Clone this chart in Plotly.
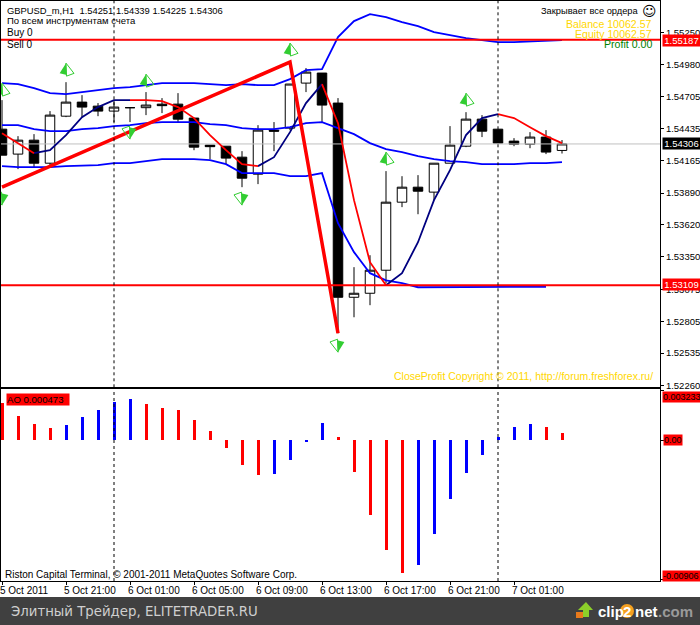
import plotly.graph_objects as go
from plotly.subplots import make_subplots

W, H = 700, 625
FONT = "Liberation Sans"

# ---------- data ----------
OPEN = [1.54431,1.54220,1.54338,1.54143,1.54541,1.54660,1.54626,1.54584,1.54613,1.54613,1.54643,1.54643,
        1.54525,1.54296,1.54287,1.54194,1.54050,1.54423,1.54440,1.54821,1.54906,1.54652,1.53008,1.53042,
        1.53237,1.53813,1.53940,1.53898,1.54143,1.54287,1.54516,1.54431,1.54330,1.54304,1.54364,1.54251]
HIGH = [1.54677,1.54372,1.54389,1.54584,1.54829,1.54719,1.54652,1.54677,1.54613,1.54745,1.54694,1.54736,
        1.54525,1.54296,1.54287,1.54245,1.54465,1.54491,1.54813,1.54948,1.54906,1.54694,1.53263,1.53364,
        1.54076,1.54033,1.54042,1.54143,1.54457,1.54575,1.54550,1.54431,1.54355,1.54406,1.54423,1.54339]
LOW = [1.54211,1.54093,1.54110,1.54110,1.54533,1.54533,1.54541,1.54491,1.54491,1.54550,1.54567,1.54491,
       1.54253,1.54177,1.54135,1.53940,1.53966,1.54245,1.54423,1.54745,1.54491,1.52703,1.52839,1.52941,
       1.53127,1.53771,1.53711,1.53830,1.54143,1.54279,1.54364,1.54313,1.54287,1.54270,1.54220,1.54225]
CLOSE = [1.54211,1.54338,1.54143,1.54550,1.54660,1.54618,1.54584,1.54618,1.54613,1.54635,1.54630,1.54516,
         1.54279,1.54283,1.54186,1.54016,1.54423,1.54414,1.54813,1.54914,1.54635,1.53008,1.53042,1.53237,
         1.53813,1.53940,1.53906,1.54143,1.54296,1.54516,1.54414,1.54313,1.54304,1.54364,1.54237,1.54306]

BAND_UPPER = [1.54821,1.54813,1.54779,1.54736,1.54728,1.54745,1.54762,1.54779,1.54787,1.54804,1.54821,1.54821,
              1.54821,1.54813,1.54804,1.54813,1.54804,1.54804,1.54855,1.54931,1.54940,1.55211,1.55346,1.55405,
              1.55380,1.55338,1.55304,1.55253,1.55228,1.55202,1.55185,1.55168,1.55168,1.55172,1.55177,1.55185]
BAND_MID = [1.54465,1.54465,1.54431,1.54414,1.54414,1.54431,1.54440,1.54457,1.54465,1.54482,1.54491,1.54491,
            1.54491,1.54474,1.54465,1.54440,1.54431,1.54431,1.54448,1.54482,1.54491,1.54440,1.54389,1.54313,
            1.54262,1.54237,1.54203,1.54177,1.54160,1.54152,1.54135,1.54135,1.54135,1.54143,1.54143,1.54152]
BAND_LOWER = [1.54118,1.54110,1.54110,1.54110,1.54118,1.54122,1.54126,1.54143,1.54143,1.54160,1.54177,1.54177,
              1.54177,1.54169,1.54135,1.54059,1.54059,1.54059,1.54033,1.54033,1.54059,1.53635,1.53390,1.53212,
              1.53152,1.53127,1.53093,1.53093,1.53093,1.53093,1.53097,1.53097,1.53097,1.53097,1.53097]

MA = [1.54397,1.54313,1.54228,1.54253,1.54381,1.54533,1.54618,1.54677,1.54677,1.54677,1.54669,1.54618,
      1.54525,1.54381,1.54253,1.54135,1.54118,1.54194,1.54406,1.54652,1.54813,1.54482,1.53830,1.53305,
      1.53110,1.53212,1.53474,1.53830,1.54084,1.54381,1.54525,1.54558,1.54525,1.54448,1.54372,1.54313]
MA_RED_SPANS = [(0, 2), (8, 16), (20, 24), (31, 35)]
MA_NAVY_SPANS = [(2, 8), (16, 20), (24, 31)]

ZIGZAG_X = [0, 18, 21]
ZIGZAG_Y = [1.53940, 1.54999, 1.52703]

LEVEL_HIGH = 1.55187
LEVEL_LOW = 1.53109
LAST_PRICE = 1.54306

ARROW_UP_X = [0, 4, 9, 18, 24, 29]
ARROW_UP_Y = [1.54821, 1.54990, 1.54897, 1.55160, 1.54237, 1.54736]
ARROW_DOWN_X = [0, 8, 15, 21]
ARROW_DOWN_Y = [1.53788, 1.54347, 1.53788, 1.52543]

AO = [0.00240,0.00156,0.00104,0.00078,0.00098,0.00150,0.00195,0.00247,0.00267,0.00234,0.00208,0.00195,
      0.00130,0.00059,-0.00052,-0.00163,-0.00228,-0.00221,-0.00130,-0.00007,0.00111,0.00020,-0.00208,-0.00488,
      -0.00715,-0.00865,-0.00813,-0.00611,-0.00384,-0.00215,-0.00098,0.00020,0.00085,0.00104,0.00085,0.00047]
AO_COLOURS = ["r"]*4 + ["b"]*5 + ["r"]*8 + ["b"]*4 + ["r"]*5 + ["b"]*8 + ["r"]*2
AO_TICKS = [0.003233, 0.0, -0.00906]

PRICE_TICKS = [1.55250,1.54980,1.54705,1.54435,1.54165,1.53890,1.53620,1.53350,1.53075,1.52805,1.52535,1.52260]
TIME_TICKS = [0, 4, 8, 12, 16, 20, 24, 28, 32]
TIME_LABELS = ["5 Oct 2011","5 Oct 21:00","6 Oct 01:00","6 Oct 05:00","6 Oct 09:00",
               "6 Oct 13:00","6 Oct 17:00","6 Oct 21:00","7 Oct 01:00"]
CURSOR_X = [7, 31]

IDX = list(range(len(CLOSE)))
GREEN = "#32cd32"


def spans(values, ranges):
    xs, ys = [], []
    for a, b in ranges:
        xs += IDX[a:b + 1] + [None]
        ys += values[a:b + 1] + [None]
    return xs, ys


fig = make_subplots(rows=2, cols=1, shared_xaxes=True, vertical_spacing=0)

fig.add_trace(go.Scatter(x=[-1, 42], y=[LAST_PRICE, LAST_PRICE], mode="lines",
                         line=dict(color="#c0c0c0", width=1), showlegend=False), row=1, col=1)
fig.add_trace(go.Candlestick(x=IDX, open=OPEN, high=HIGH, low=LOW, close=CLOSE,
    increasing=dict(fillcolor="white", line=dict(color="black", width=1)),
    decreasing=dict(fillcolor="black", line=dict(color="black", width=1)),
    whiskerwidth=0, showlegend=False, hoverinfo="skip"), row=1, col=1)

for band in (BAND_UPPER, BAND_MID, BAND_LOWER):
    fig.add_trace(go.Scatter(x=IDX[:len(band)], y=band, mode="lines", line=dict(color="#0000ff", width=1.8),
                             showlegend=False), row=1, col=1)
xs, ys = spans(MA, MA_NAVY_SPANS)
fig.add_trace(go.Scatter(x=xs, y=ys, mode="lines", line=dict(color="#000080", width=1.8), showlegend=False), row=1, col=1)
xs, ys = spans(MA, MA_RED_SPANS)
fig.add_trace(go.Scatter(x=xs, y=ys, mode="lines", line=dict(color="#ff0000", width=1.8), showlegend=False), row=1, col=1)
fig.add_trace(go.Scatter(x=ZIGZAG_X, y=ZIGZAG_Y, mode="lines", line=dict(color="#ff0000", width=3.5),
                         showlegend=False), row=1, col=1)
for level in (LEVEL_HIGH, LEVEL_LOW):
    fig.add_trace(go.Scatter(x=[-1, 42], y=[level, level], mode="lines", line=dict(color="#ff0000", width=2),
                             showlegend=False), row=1, col=1)

# stealth arrows: one solid wing and one outlined wing, both hinged on the tip
for ax, ay, solid, hollow in ((ARROW_UP_X, ARROW_UP_Y, 14, -20), (ARROW_DOWN_X, ARROW_DOWN_Y, 194, 160)):
    fig.add_trace(go.Scatter(x=ax, y=ay, mode="markers",
                             marker=dict(symbol="arrow-open", angle=hollow, size=13, color=GREEN,
                                         line=dict(width=1, color=GREEN)),
                             showlegend=False), row=1, col=1)
    fig.add_trace(go.Scatter(x=ax, y=ay, mode="markers",
                             marker=dict(symbol="arrow", angle=solid, size=12, color=GREEN, line=dict(width=0)),
                             showlegend=False), row=1, col=1)

fig.add_trace(go.Bar(x=IDX, y=AO, width=0.1875, offset=-0.06,
                     marker=dict(color=["#ff0000" if c == "r" else "#0000ff" for c in AO_COLOURS], line=dict(width=0)),
                     showlegend=False, hoverinfo="skip"), row=2, col=1)

XR = [(1 - 2) / 16, (660 - 2) / 16]
fig.update_xaxes(range=XR, showgrid=False, zeroline=False, showline=True, mirror=True, linecolor="black",
                 linewidth=1, rangeslider_visible=False, fixedrange=True)
fig.update_xaxes(showticklabels=False, ticks="", row=1, col=1)
fig.update_xaxes(tickmode="array", tickvals=TIME_TICKS, ticktext=TIME_LABELS, ticks="outside", ticklen=3,
                 tickcolor="black", showticklabels=True, ticklabelposition="outside right", ticklabelshift=-3,
                 tickfont=dict(family=FONT, size=10, color="black"), row=2, col=1)
fig.update_yaxes(side="right", showgrid=False, zeroline=False, showline=True, mirror=True, linecolor="black",
                 linewidth=1, fixedrange=True)
fig.update_yaxes(range=[1.52246, 1.55516], tickmode="array", tickvals=PRICE_TICKS,
                 ticktext=[f"{v:.5f}" for v in PRICE_TICKS], ticks="outside", ticklen=3, tickcolor="black",
                 tickfont=dict(family=FONT, size=9.5, color="black"), row=1, col=1)
fig.update_yaxes(range=[-0.00913, 0.00333], tickmode="array", tickvals=AO_TICKS, showticklabels=False,
                 ticks="outside", ticklen=3, tickcolor="black", row=2, col=1)

fig.update_layout(
    width=W, height=H, autosize=False, margin=dict(l=0, r=0, t=0, b=0, autoexpand=False),
    paper_bgcolor="white", plot_bgcolor="white", showlegend=False, boxgap=0.15, bargap=0,
    font=dict(family=FONT, size=10, color="black"),
    xaxis=dict(domain=[1 / W, 660 / W]), xaxis2=dict(domain=[1 / W, 660 / W]),
    yaxis=dict(domain=[1 - 387.3 / H, 1 - 1 / H]), yaxis2=dict(domain=[1 - 581 / H, 1 - 389.3 / H]),
)

for xv in CURSOR_X:
    for r in (1, 2):
        fig.add_vline(x=xv, line=dict(color="black", width=1, dash="3px,3px"), row=r, col=1)

# footer band
fig.add_shape(type="rect", xref="paper", yref="paper", x0=0, x1=1, y0=0, y1=1 - 597 / H,
              fillcolor="#404040", line=dict(width=0), layer="below")


def note(text, x, y, anchor="left", color="black", size=10, **kw):
    fig.add_annotation(text=text, xref="paper", yref="paper", x=x / W, y=1 - y / H, xanchor=anchor, yanchor="middle",
                       showarrow=False, font=dict(family=kw.pop("family", FONT), size=size, color=color),
                       borderpad=0, **kw)


def px_path(points):
    return "M" + "L".join(f"{x / W:.5f},{1 - y / H:.5f}" for x, y in points) + "Z"


note("GBPUSD_m,H1&nbsp;&nbsp;1.54251 1.54339 1.54225 1.54306", 6, 10, size=9.4)
note("По всем инструментам счета", 6, 20, size=9.5)
note("Buy 0", 6, 32)
note("Sell 0", 6, 44)
note("Закрывает все ордера", 640, 11, "right", size=9.3)
note("☺", 649, 10.5, "center", size=14, family="DejaVu Sans")
note("Balance 10062.57", 653, 24, "right", "#ffd700", size=10.6)
note("Equity 10062.57", 653, 34, "right", "#ffd700", size=10.6)
note("Profit 0.00", 653, 44, "right", "#008000", size=10.6)
note("CloseProfit Copyright © 2011, http://forum.freshforex.ru/", 654, 376, "right", "#ffd700", size=10.5)
note("Riston Capital Terminal, © 2001-2011 MetaQuotes Software Corp.", 4, 574)
note("AO 0.000473", 6, 399.5, bgcolor="#ff0000", width=62, height=11, align="left", size=9.6)

note("1.55187", 662, 40.7, color="white", bgcolor="#ff0000", width=37, height=11, align="center", size=9.5)
note("1.53109", 662, 284.5, color="white", bgcolor="#ff0000", width=37, height=11, align="center", size=9.5)
note("1.54306", 662, 144, color="white", bgcolor="#000000", width=37, height=11, align="center", size=9.5)
note("0.003233", 662, 396.7, bgcolor="#ff0000", width=38, height=10, align="left", size=9)
note("0.00", 663, 439.5, bgcolor="#ff0000", width=18, height=10, align="left", size=9)
note("-0.00906", 662, 575.5, bgcolor="#ff0000", width=37, height=10, align="left", size=9)

note("Элитный Трейдер, ELITETRADER.RU", 10, 611, color="#cfcfcf", size=13.3, family="DejaVu Sans")

# clip2net logo
fig.add_shape(type="path", xref="paper", yref="paper",
              path=px_path([(586, 602), (593, 610), (589, 610), (589, 617), (583, 617), (583, 610), (578, 610)]),
              fillcolor="#8ccf2a", line=dict(width=0))
fig.add_shape(type="path", xref="paper", yref="paper",
              path=px_path([(576, 612), (583, 612), (583, 618), (576, 618)]),
              fillcolor="#e8791c", line=dict(width=0))
fig.add_shape(type="circle", xref="paper", yref="paper", x0=620 / W, x1=634 / W, y0=1 - 618 / H, y1=1 - 604 / H,
              fillcolor="#f5a020", line=dict(width=0))
note("<b>clip</b>", 597, 611, color="white", size=15)
note("<b>2</b>", 627, 611, "center", color="white", size=15)
note("<b>net</b>", 634, 611, color="white", size=15)
note("<b>.com</b>", 657, 611, color="#9a9a9a", size=15)

fig.write_html("out.html",
               post_script="document.documentElement.style.overflow='hidden';"
                           "document.body.style.margin='0';document.body.style.overflow='hidden';"
                           "document.body.style.height='625px';",
               config={"displayModeBar": False})
